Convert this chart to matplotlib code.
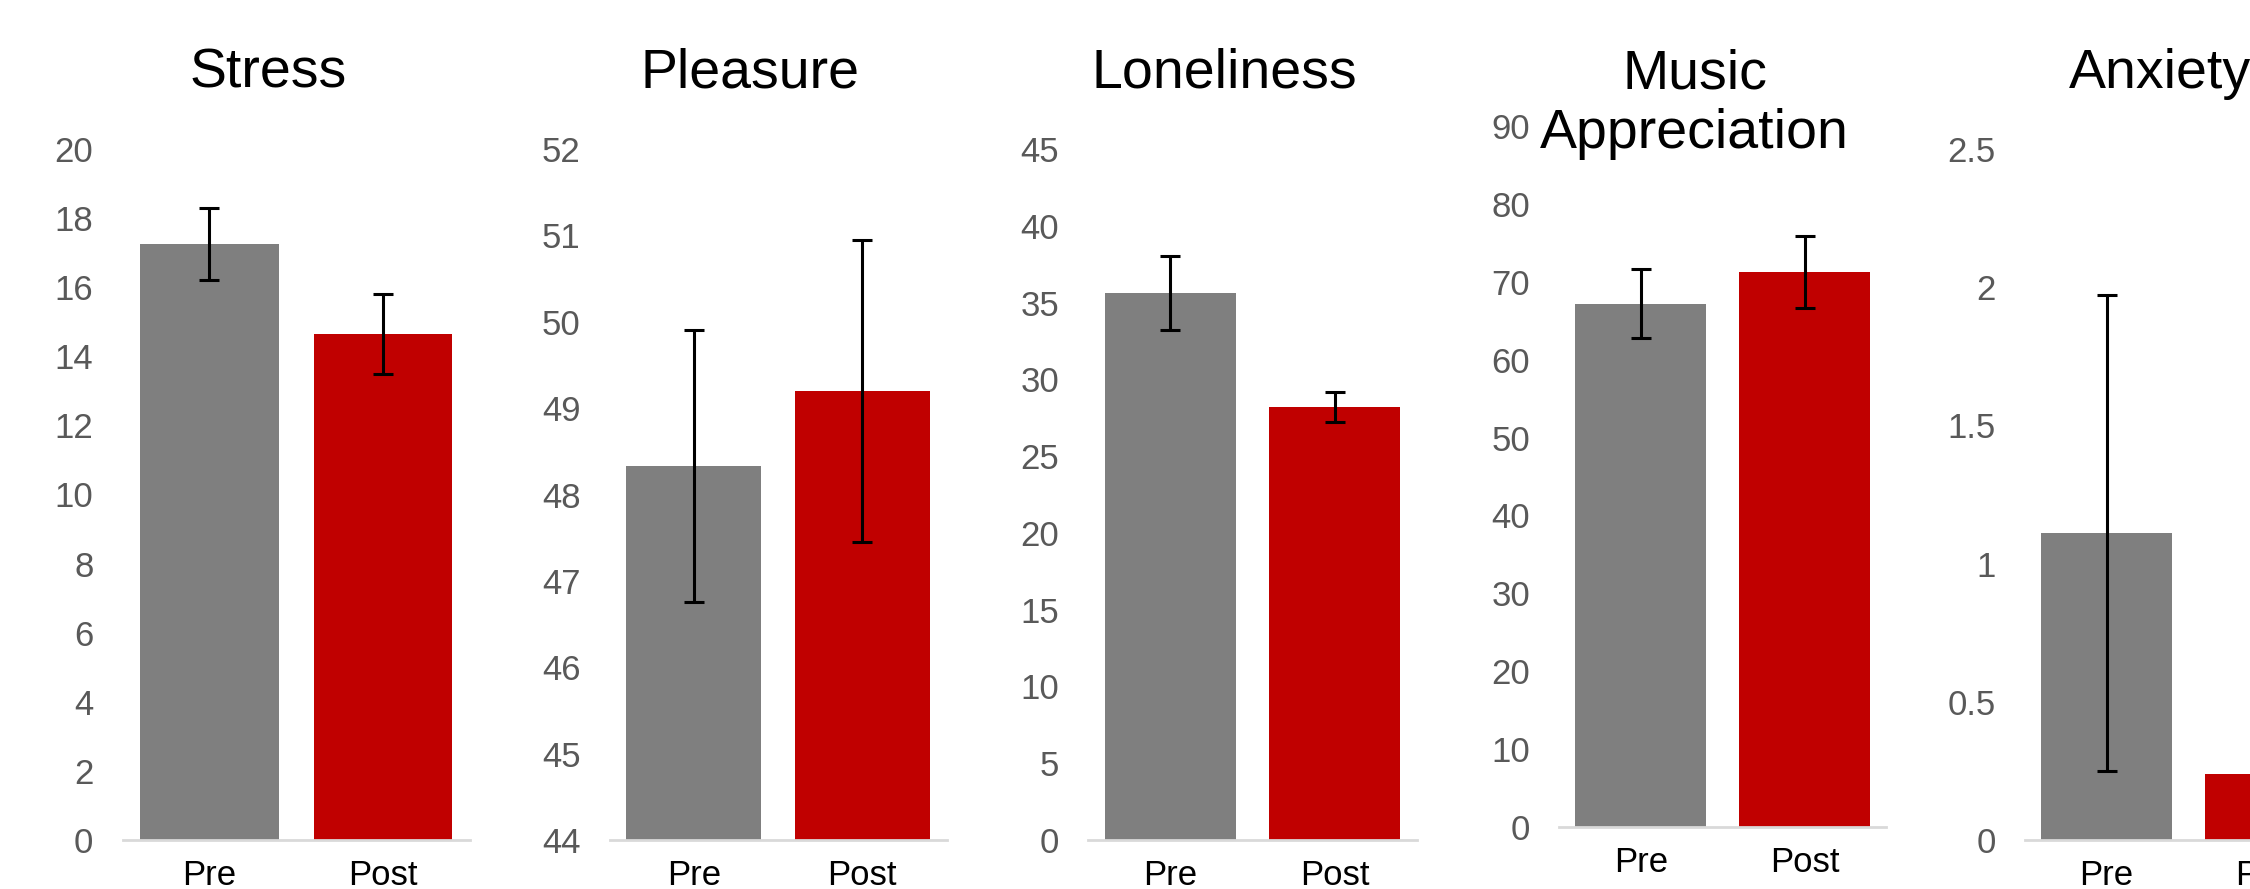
import numpy as np
import matplotlib
matplotlib.use('Agg')
import matplotlib.pyplot as plt
from matplotlib.ticker import FuncFormatter

plt.rcParams['font.family'] = ['Liberation Sans', 'DejaVu Sans']

# dados
titulos = ['Stress', 'Pleasure', 'Loneliness', 'Music\nAppreciation', 'Anxiety']
grupos = ['Pre', 'Post']
medias = [[17.25, 14.65], [48.33, 49.2], [35.6, 28.2], [67.2, 71.3], [1.11, 0.24]]
erros = [[1.05, 1.15], [1.57, 1.75], [2.4, 1.0], [4.45, 4.6], [0.86, 0.1]]
limites_y = [(0, 20), (44, 52), (0, 45), (0, 90), (0, 2.5)]
passos_y = [2, 1, 5, 10, 0.5]

cores = ['#7f7f7f', '#c00000']

# layout em pixels (largura 2250 x altura 889)
W, H = 2250, 889
esquerda = [122.6, 609.6, 1088.1, 1559.1, 2024.8]
largura = [347.2, 337.0, 328.6, 327.2, 327.2]
topo = [149, 149, 149, 126.3, 149]
base = [840, 840, 840, 826.6, 840]
# baseline da ultima linha do titulo
base_titulo = [88, 88, 88, 148, 88]

fig = plt.figure(figsize=(W / 100, H / 100), dpi=100)

for i in range(len(titulos)):
    ax = fig.add_axes([esquerda[i] / W, 1 - base[i] / H,
                       largura[i] / W, (base[i] - topo[i]) / H])
    x = np.arange(len(grupos))
    ax.bar(x, medias[i], width=0.8, color=cores)
    ax.errorbar(x, medias[i], yerr=erros[i], fmt='none', ecolor='black',
                elinewidth=2.2, capsize=7, capthick=2.2)
    ax.set_xlim(-0.5, 1.5)
    lo, hi = limites_y[i]
    ax.set_ylim(lo, hi)
    ax.set_yticks(np.arange(lo, hi + passos_y[i] / 2, passos_y[i]))
    ax.yaxis.set_major_formatter(FuncFormatter(lambda v, p: f'{v:g}'))
    ax.set_xticks(x)
    ax.set_xticklabels(grupos)
    for lado in ['top', 'right', 'left']:
        ax.spines[lado].set_visible(False)
    ax.spines['bottom'].set_color('#d9d9d9')
    ax.spines['bottom'].set_linewidth(2)
    ax.tick_params(axis='y', length=0, pad=21, labelsize=25, labelcolor='#595959')
    ax.tick_params(axis='x', length=0, pad=14, labelsize=25, labelcolor='black')

    # titulo
    cx = esquerda[i] + largura[i] / 2 - 28
    fig.text(cx / W, 1 - base_titulo[i] / H, titulos[i], ha='center',
             va='baseline', fontsize=40, color='black', linespacing=1.18)

fig.savefig('out.png', dpi=100)
